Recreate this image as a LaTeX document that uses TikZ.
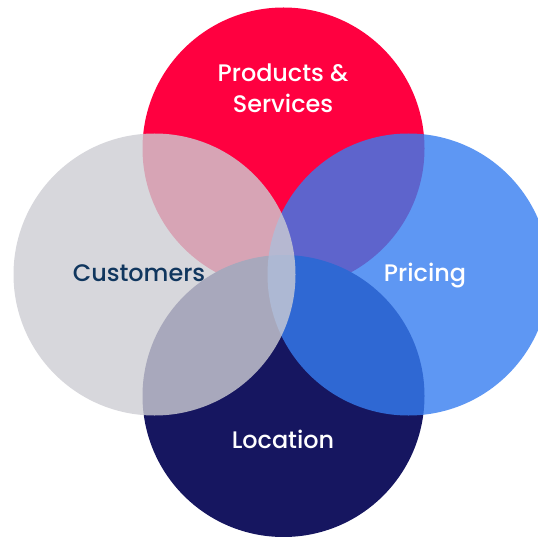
\documentclass[tikz,border=0pt]{standalone}
\usepackage{fontspec}
\newfontfamily\vennfont{Poppins Medium}
\definecolor{prodred}{RGB}{255,0,64}
\definecolor{locnavy}{RGB}{22,22,96}
\definecolor{priceblue}{RGB}{54,125,240}
\definecolor{custgrey}{RGB}{205,205,211}
\definecolor{custtext}{RGB}{16,54,94}

\begin{document}
\begin{tikzpicture}[x=1bp,y=-1bp,
    venntext/.style={font=\vennfont\fontsize{24}{32}\selectfont, anchor=base, inner sep=0pt}]
  \useasboundingbox (0,0) rectangle (538,537);
  % opaque circles first, the see-through ones on top
  \fill[prodred] (283.5,148.5) circle (141);
  \fill[locnavy] (283.5,396) circle (141);
  \fill[priceblue,opacity=0.8] (408.5,274.5) circle (141);
  \fill[custgrey,opacity=0.8] (154.5,274.5) circle (141);
  % labels
  \node[venntext,text=white,align=center] (products) at (283,113) {Products \&\\Services};
  \node[venntext,text=custtext] (customers) at (139,281) {Customers};
  \node[venntext,text=white] (pricing) at (425,281) {Pricing};
  \node[venntext,text=white] (location) at (283,448) {Location};
\end{tikzpicture}
\end{document}
